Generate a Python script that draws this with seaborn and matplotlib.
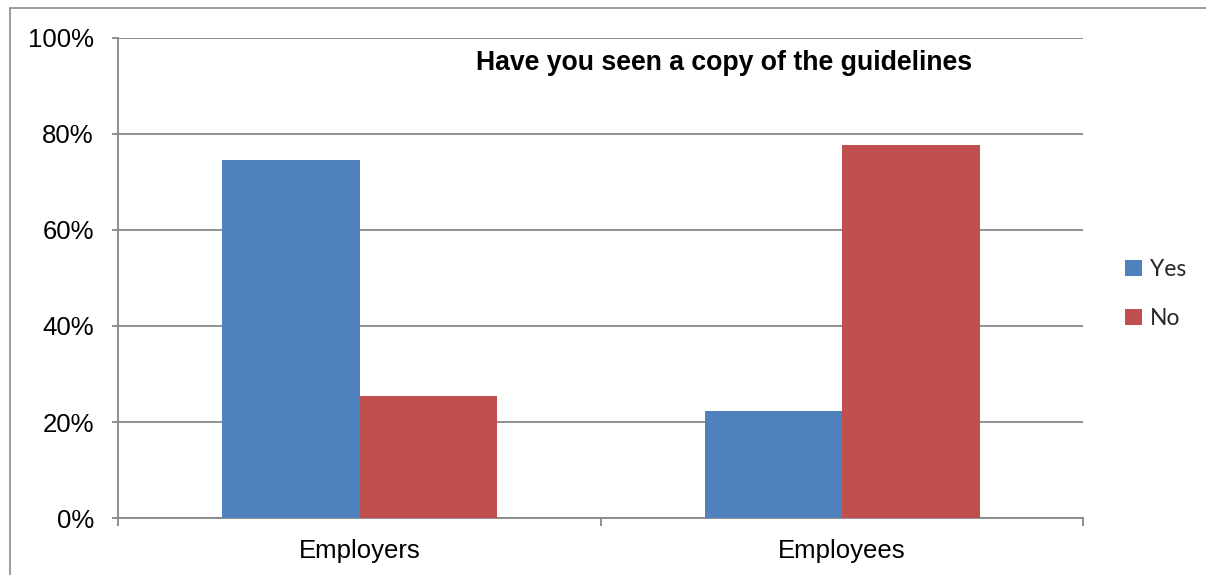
import matplotlib
matplotlib.use("Agg")
import matplotlib.pyplot as plt
from matplotlib.lines import Line2D
from matplotlib.patches import Patch
from matplotlib.ticker import FixedLocator, FuncFormatter
import seaborn as sns
import pandas as pd

# Survey results: "Have you seen a copy of the guidelines"
groups = ["Employers", "Employees"]
responses = ["Yes", "No"]
yes_pct = [74.6, 22.4]
no_pct = [25.4, 77.6]
y_ticks = [0, 20, 40, 60, 80, 100]
title_text = "Have you seen a copy of the guidelines"

colors = {"Yes": "#4F81BD", "No": "#C0504D"}
grid_grey = "#878787"

df = pd.DataFrame({
    "Group": groups * 2,
    "Response": ["Yes"] * len(groups) + ["No"] * len(groups),
    "Percent": yes_pct + no_pct,
})

sns.set_theme(style="white")
plt.rcParams["font.family"] = ["Liberation Sans", "DejaVu Sans"]

fig = plt.figure(figsize=(12.06, 5.75), dpi=100)
ax = fig.add_axes([118.3 / 1206, 1 - 518.3 / 575, (1083.3 - 118.3) / 1206, (518.3 - 37.5) / 575])

sns.barplot(data=df, x="Group", y="Percent", hue="Response", order=groups,
            hue_order=responses, palette=colors, width=0.57, gap=0,
            linewidth=0, saturation=1, ax=ax, legend=False, zorder=3)

ax.set_ylim(0, 100)
ax.set_xlim(-0.5, len(groups) - 0.5)
ax.yaxis.set_major_locator(FixedLocator(y_ticks))
ax.yaxis.set_major_formatter(FuncFormatter(lambda v, _: f"{v:.0f}%"))
ax.grid(axis="y", color=grid_grey, linewidth=1.3, zorder=0)
ax.set_axisbelow(True)

# category boundary ticks on the major locator, labels on the minor one
ax.set_xticks([i - 0.5 for i in range(len(groups) + 1)])
ax.set_xticklabels([])
ax.set_xticks(range(len(groups)), minor=True)
ax.set_xticklabels(groups, minor=True)
ax.tick_params(axis="x", which="major", direction="out", length=5.5, width=1.3,
               color=grid_grey, bottom=True)
ax.tick_params(axis="x", which="minor", length=0, pad=15, labelsize=18.5,
               labelcolor="black")
ax.tick_params(axis="y", direction="out", length=4.5, width=1.3, color=grid_grey,
               left=True, pad=13, labelsize=18.5, labelcolor="black")

ax.set_xlabel("")
ax.set_ylabel("")
for side in ["top", "right"]:
    ax.spines[side].set_visible(False)
for side in ["left", "bottom"]:
    ax.spines[side].set_color(grid_grey)
    ax.spines[side].set_linewidth(1.3)

ax.text(0.628, 0.9324, title_text, transform=ax.transAxes, ha="center",
        va="baseline", fontsize=19.2, fontweight="bold", color="black")

handles = [Patch(facecolor=colors[r], edgecolor="none", label=r) for r in responses]
fig.legend(handles=handles, loc="center left", bbox_to_anchor=(1125 / 1206, 0.4887),
           frameon=False, borderpad=0, borderaxespad=0, handlelength=0.72,
           handleheight=0.72, handletextpad=0.35, labelspacing=1.2,
           prop={"family": ["Lato", "DejaVu Sans"], "size": 16.5})

# outer chart frame: top and left edges only
fx, fy = 10 / 1206, 1 - 8 / 575
fig.add_artist(Line2D([fx, 1.0], [fy, fy], transform=fig.transFigure,
                      color="#8c8c8c", linewidth=1.2))
fig.add_artist(Line2D([fx, fx], [0.0, fy], transform=fig.transFigure,
                      color="#8c8c8c", linewidth=1.2))

fig.savefig("out.png", dpi=100)
